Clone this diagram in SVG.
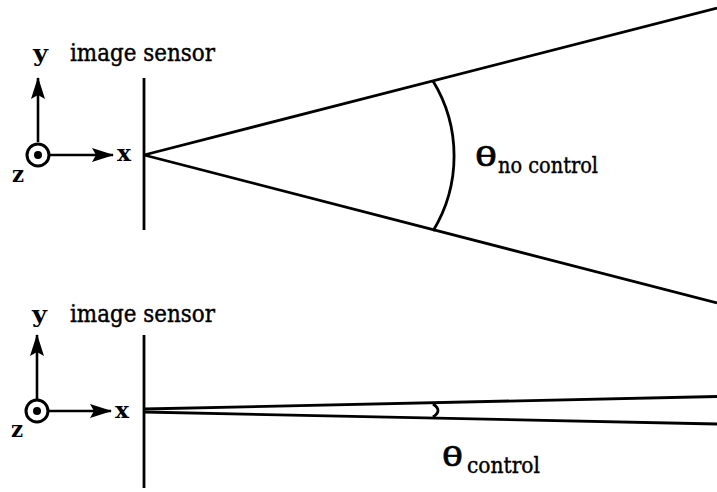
<svg xmlns="http://www.w3.org/2000/svg" width="717" height="492" viewBox="0 0 717 492">
<style>
.ln{stroke:#000;stroke-width:2.8;fill:none;stroke-linecap:butt}
.ax{stroke:#000;stroke-width:2.6;fill:none}
.lbl{font-family:'DejaVu Serif',serif;font-size:24px;fill:#000;stroke:#000;stroke-width:0.45}
.axl{font-family:'DejaVu Serif',serif;font-size:23px;font-weight:bold;fill:#000}
.th{font-family:'Liberation Sans',sans-serif;font-size:27px;fill:#000;stroke:#000;stroke-width:0.6}
.sub{font-family:'DejaVu Serif',serif;font-size:23px;fill:#000;stroke:#000;stroke-width:0.45}
</style>
<defs>
<marker id="ah" viewBox="0 0 22 14" refX="21" refY="7" markerWidth="22" markerHeight="14" markerUnits="userSpaceOnUse" orient="auto">
<path d="M0,0 L22,7 L0,14 L4,7 Z" fill="#000"/>
</marker>
</defs>
<g id="axes-top">
<line class="ax" x1="38" y1="142" x2="38" y2="78" marker-end="url(#ah)"/>
<line class="ax" x1="50" y1="155" x2="113" y2="155" marker-end="url(#ah)"/>
<circle cx="38" cy="155" r="11" fill="#fff" stroke="#000" stroke-width="3"/>
<circle cx="38" cy="155" r="4" fill="#000"/>
<text class="axl" x="33" y="61" textLength="15" lengthAdjust="spacingAndGlyphs">y</text>
<text class="axl" x="117" y="161" textLength="14" lengthAdjust="spacingAndGlyphs">x</text>
<text class="axl" x="12" y="182" textLength="12" lengthAdjust="spacingAndGlyphs">z</text>
</g>
<g id="sensor-top">
<line class="ln" x1="144" y1="78" x2="144" y2="230"/>
<text class="lbl" x="70" y="61" textLength="145" lengthAdjust="spacingAndGlyphs">image sensor</text>
</g>
<g id="axes-bottom">
<line class="ax" x1="37" y1="400" x2="37" y2="335" marker-end="url(#ah)"/>
<line class="ax" x1="49" y1="411" x2="111" y2="411" marker-end="url(#ah)"/>
<circle cx="37" cy="411" r="11" fill="#fff" stroke="#000" stroke-width="3"/>
<circle cx="37" cy="411" r="4" fill="#000"/>
<text class="axl" x="32" y="322" textLength="15" lengthAdjust="spacingAndGlyphs">y</text>
<text class="axl" x="115" y="418" textLength="14" lengthAdjust="spacingAndGlyphs">x</text>
<text class="axl" x="11" y="437" textLength="12" lengthAdjust="spacingAndGlyphs">z</text>
</g>
<g id="sensor-bottom">
<line class="ln" x1="144" y1="335" x2="144" y2="488"/>
<text class="lbl" x="70" y="322" textLength="145" lengthAdjust="spacingAndGlyphs">image sensor</text>
</g>
<g id="connectors">
<line class="ln" x1="144" y1="155" x2="717" y2="8"/>
<line class="ln" x1="144" y1="155" x2="717" y2="303"/>
<path class="ln" d="M433,81 A144,144 0 0 1 433,231"/>
<line class="ln" x1="144" y1="409" x2="717" y2="396.5"/>
<line class="ln" x1="144" y1="412" x2="717" y2="424"/>
<path class="ln" d="M433,404 Q443,410.5 433,417"/>
</g>
<g id="label-no-control">
<text class="th" x="475" y="166" textLength="22" lengthAdjust="spacingAndGlyphs">θ</text>
<text class="sub" x="498" y="173" textLength="100" lengthAdjust="spacingAndGlyphs">no control</text>
</g>
<g id="label-control">
<text class="th" x="442" y="466" textLength="21" lengthAdjust="spacingAndGlyphs">θ</text>
<text class="sub" x="467" y="473" textLength="73" lengthAdjust="spacingAndGlyphs">control</text>
</g>
</svg>
